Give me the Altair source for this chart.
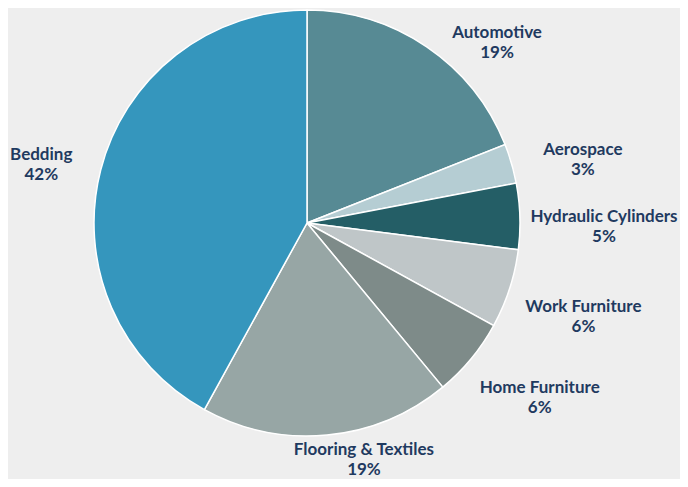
import math
import altair as alt
import pandas as pd

# ---- data ----
categories = ["Automotive", "Aerospace", "Hydraulic Cylinders", "Work Furniture",
              "Home Furniture", "Flooring & Textiles", "Bedding"]
shares = [19, 3, 5, 6, 6, 19, 42]

# ---- styling ----
colors = ["#578a94", "#b5cdd3", "#245e66", "#bfc6c8", "#7e8b89", "#97a6a5", "#3596bd"]

# ---- label layout (angle in degrees clockwise from top, distance from centre in px) ----
label_angle = [46.5, 77.1, 90.8, 108.8, 126.9, 166.5, 282.3]
label_dist = [262, 283, 297, 292, 291, 244, 272]

pie_df = pd.DataFrame({"category": categories, "share": shares,
                       "idx": list(range(len(categories)))})
lab_df = pd.DataFrame({
    "label": [f"{c}\n{s}%" for c, s in zip(categories, shares)],
    "theta": [math.radians(a) for a in label_angle],
    "r": label_dist,
})

CX, CY, R = 299, 215, 213

pie = alt.Chart(pie_df).mark_arc(outerRadius=R, stroke="white", strokeWidth=1.5).encode(
    theta=alt.Theta("share:Q", stack=True),
    color=alt.Color("category:N", scale=alt.Scale(domain=categories, range=colors), legend=None),
    order=alt.Order("idx:Q"),
    x=alt.value(CX),
    y=alt.value(CY),
)

labels = alt.Chart(lab_df).mark_text(
    font="Lato", fontSize=17, fontWeight="bold", color="#1f3a60",
    align="center", baseline="middle", lineBreak="\n", lineHeight=20, dy=-10,
).encode(
    theta=alt.Theta("theta:Q", scale=None),
    radius=alt.Radius("r:Q", scale=None),
    text="label:N",
    x=alt.value(CX),
    y=alt.value(CY),
)

chart = alt.layer(pie, labels).properties(
    width=672, height=471,
    autosize=alt.AutoSizeParams(type="none"),
    padding=0,
    background="#eeeeee",
).configure_view(stroke=None)

chart.save("out.html", embed_options={"renderer": "svg", "actions": False})
